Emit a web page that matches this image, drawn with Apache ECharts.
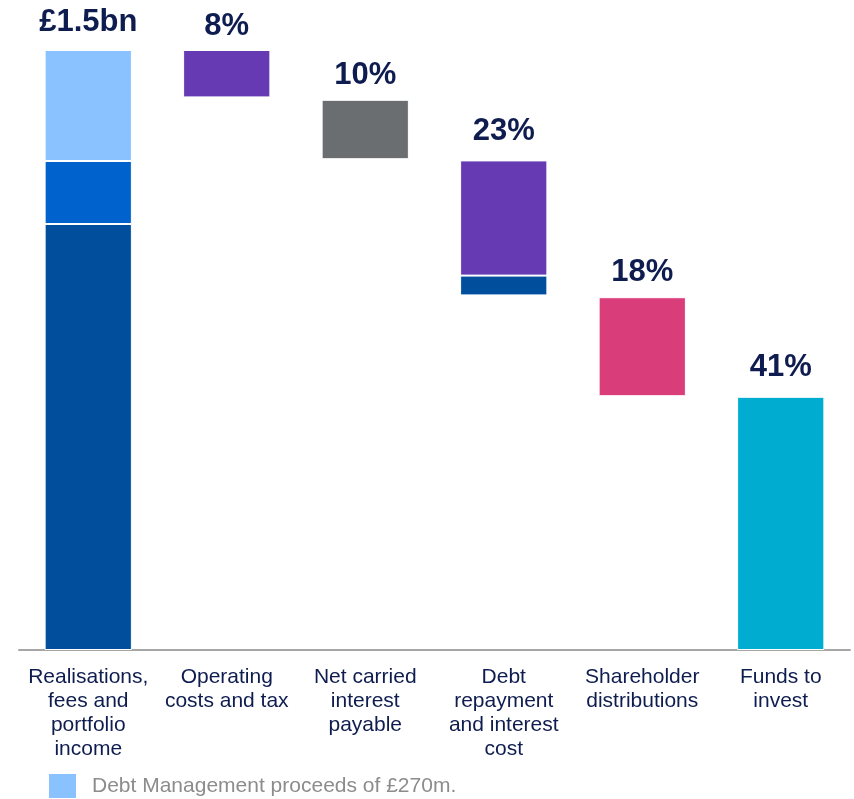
<!DOCTYPE html>
<html>
<head>
<meta charset="utf-8">
<title>Cash flow waterfall</title>
<script src="https://cdn.jsdelivr.net/npm/echarts@6/dist/echarts.min.js"></script>
<style>
  html, body { margin: 0; padding: 0; background: #fff; }
  #chart { width: 854px; height: 799px; }
</style>
</head>
<body>
<div id="chart"></div>
<script>
// categories along the x axis
const categories = [
  'Realisations,\nfees and\nportfolio\nincome',
  'Operating\ncosts and tax',
  'Net carried\ninterest\npayable',
  'Debt\nrepayment\nand interest\ncost',
  'Shareholder\ndistributions',
  'Funds to\ninvest'
]

// labels printed above each bar
const topLabels = ['£1.5bn', '8%', '10%', '23%', '18%', '41%']

// values as % of £1.5bn
const baseValues  = [0, 92.1, 81.8, 59.1, 42.3, 0]      // invisible offset
const lowerValues = [71, '-', '-', 3.3, '-', '-']       // dark blue part
const mainValues  = [10.5, 7.9, 9.9, 19.2, 16.5, 42.2]  // main coloured part
const debtMgmt    = [18.5, '-', '-', '-', '-', '-']     // Debt Management proceeds
const labelAnchor = [0, 0, 0, 0, 0, 0]                  // zero bar carrying top label

const mainColors = ['#0062CC', '#663AB3', '#6B6E70', '#663AB3', '#D93D7A', '#00ADD1']
const labelGap = [12, 8, 9, 13, 9, 14]
const navy = '#0E1C4F'
const legendName = 'Debt Management proceeds of £270m.'

const chart = echarts.init(document.getElementById('chart'))

const seg = { borderColor: '#fff', borderWidth: 1 }

chart.setOption({
  animation: false,
  textStyle: { fontFamily: 'Liberation Sans, Arial, sans-serif' },
  grid: { left: 19, right: 4, top: 50, bottom: 149 },
  legend: {
    data: [legendName],
    left: 42,
    top: 767,
    icon: 'rect',
    itemWidth: 29,
    itemHeight: 26,
    selectedMode: false,
    textStyle: { color: '#8C8C8C', fontSize: 21, padding: [0, 0, 0, 10] }
  },
  xAxis: {
    type: 'category',
    data: categories,
    axisLine: { lineStyle: { color: '#A6A6A6', width: 2 } },
    axisTick: { show: false },
    axisLabel: {
      interval: 0,
      color: navy,
      fontSize: 21,
      lineHeight: 24,
      margin: 15
    }
  },
  yAxis: {
    type: 'value',
    min: 0,
    max: 100,
    show: false
  },
  series: [
    {
      type: 'bar', stack: 'w', barWidth: '63%',
      data: baseValues,
      itemStyle: { color: 'transparent' },
      silent: true
    },
    {
      type: 'bar', stack: 'w',
      data: lowerValues,
      itemStyle: Object.assign({ color: '#004E9C' }, seg)
    },
    {
      type: 'bar', stack: 'w',
      data: mainValues.map((v, i) => ({
        value: v,
        itemStyle: Object.assign({ color: mainColors[i] }, seg)
      }))
    },
    {
      name: legendName,
      type: 'bar', stack: 'w',
      data: debtMgmt,
      itemStyle: Object.assign({ color: '#89C2FF' }, seg)
    },
    {
      type: 'bar', stack: 'w',
      data: labelAnchor.map((v, i) => ({
        value: v,
        label: { distance: labelGap[i] }
      })),
      itemStyle: { color: 'transparent' },
      label: {
        show: true,
        position: 'top',
        color: navy,
        fontSize: 31,
        fontWeight: 'bold',
        formatter: p => topLabels[p.dataIndex]
      }
    }
  ]
})
</script>
</body>
</html>
